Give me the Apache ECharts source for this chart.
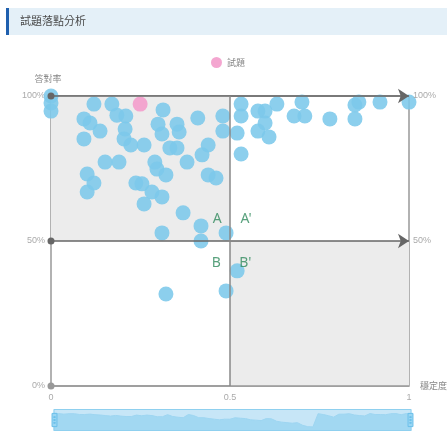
<!DOCTYPE html>
<html>
<head>
<meta charset="utf-8">
<script src="https://cdn.jsdelivr.net/npm/echarts@6/dist/echarts.min.js"></script>
<style>
  html, body { margin: 0; padding: 0; background: #fff; }
  #main { width: 447px; height: 433px; }
</style>
</head>
<body>
<div id="main"></div>
<script>
// 穩定度 (x) / 答對率 (y, %)
var stableX = [0, 0, 0, 0.12, 0.17, 0.184, 0.209, 0.313, 0.092, 0.109, 0.137, 0.092, 0.207, 0.204, 0.223, 0.26,
  0.299, 0.31, 0.352, 0.358, 0.332, 0.352, 0.41, 0.439, 0.422, 0.38, 0.48, 0.48, 0.151, 0.19, 0.101, 0.12,
  0.101, 0.237, 0.254, 0.29, 0.296, 0.321, 0.282, 0.31, 0.26, 0.439, 0.461, 0.369, 0.419, 0.31, 0.419, 0.489,
  0.52, 0.489, 0.321, 0.531, 0.531, 0.52, 0.531, 0.578, 0.598, 0.631, 0.598, 0.578, 0.609, 0.701, 0.679,
  0.709, 0.779, 0.849, 0.86, 0.849, 0.919, 1.0];
var correctY = [100, 97.6, 94.8, 97.2, 97.2, 93.4, 93.1, 95.2, 92.1, 90.7, 87.9, 85.2, 88.6, 85.2, 83.1, 83.1,
  90.3, 86.9, 90.3, 87.6, 82.1, 82.1, 92.4, 83.1, 79.7, 77.2, 93.1, 87.9, 77.2, 77.2, 73.1, 70,
  66.9, 70, 69.7, 77.2, 74.8, 72.8, 66.9, 65.2, 62.8, 72.8, 71.7, 59.7, 55.2, 52.8, 50, 52.8,
  39.7, 32.8, 31.7, 97.2, 93.1, 87.2, 80, 94.8, 94.8, 97.2, 90.7, 87.9, 85.9, 97.9, 93.1,
  93.1, 92.1, 96.9, 97.9, 92.1, 97.9, 97.9];
var pinkX = [0.249];
var pinkY = [97.2];

var quadLabels = ['A', "A'", 'B', "B'"];
var quadX = [0.464, 0.545, 0.462, 0.543];
var quadY = [57.5, 57.5, 42.5, 42.5];

var yTicks = [0, 50, 100];

var pointData = [];
for (var i = 0; i < stableX.length; i++) {
  pointData.push([stableX[i], correctY[i]]);
}
var pinkData = [];
for (var j = 0; j < pinkX.length; j++) {
  pinkData.push([pinkX[j], pinkY[j]]);
}
var labelData = [];
for (var k = 0; k < quadLabels.length; k++) {
  labelData.push({ name: quadLabels[k], value: [quadX[k], quadY[k]] });
}

var chart = echarts.init(document.getElementById('main'));

var option = {
  animation: false,
  graphic: [
    { type: 'rect', shape: { x: 6, y: 8, width: 441, height: 27 }, style: { fill: '#e4f0f8' } },
    { type: 'rect', shape: { x: 6, y: 8, width: 3, height: 27 }, style: { fill: '#1f5fae' } },
    { type: 'text', left: 20, top: 15, style: { text: '試題落點分析', fill: '#4a4a4a', font: '11px "Noto Sans CJK TC"' } }
  ],
  legend: {
    data: ['試題'],
    top: 52,
    left: 206,
    icon: 'circle',
    itemWidth: 11,
    itemHeight: 11,
    itemGap: 6,
    textStyle: { color: '#888', fontSize: 9, fontFamily: 'Noto Sans CJK TC' }
  },
  grid: {
    left: 51,
    right: 38,
    top: 96,
    bottom: 47,
    outerBoundsMode: 'none',
    show: true,
    borderColor: '#999',
    borderWidth: 1.5,
    backgroundColor: '#fff'
  },
  xAxis: {
    type: 'value',
    min: 0,
    max: 1,
    interval: 0.5,
    name: '穩定度',
    nameLocation: 'end',
    nameGap: 11,
    nameTextStyle: { color: '#888', fontSize: 9, fontFamily: 'Noto Sans CJK TC' },
    axisLine: { show: false },
    axisTick: { show: false },
    splitLine: { show: false },
    axisLabel: { color: '#aaa', fontSize: 9, margin: 7 }
  },
  yAxis: {
    type: 'value',
    min: yTicks[0],
    max: yTicks[yTicks.length - 1],
    interval: 50,
    name: '答對率',
    nameGap: 13,
    nameTextStyle: { color: '#888', fontSize: 9, fontFamily: 'Noto Sans CJK TC', padding: [0, 6, 0, 0] },
    axisLine: { show: false },
    axisTick: { show: false },
    splitLine: { show: false },
    axisLabel: { color: '#aaa', fontSize: 9, margin: 6, formatter: '{value}%' }
  },
  dataZoom: [{
    type: 'slider',
    xAxisIndex: 0,
    filterMode: 'none',
    left: 51,
    right: 38,
    bottom: 2,
    height: 22,
    borderColor: '#8fd0ef',
    backgroundColor: 'rgba(200,230,245,0.3)',
    fillerColor: 'rgba(140,205,240,0.4)',
    showDetail: false,
    handleIcon: 'path://M0,0 h6 v16 h-6 z M2,4 h2 v1 h-2 z M2,7.5 h2 v1 h-2 z M2,11 h2 v1 h-2 z',
    handleSize: '60%',
    handleStyle: { color: '#9ad6f3', borderColor: '#6cc0ea' },
    moveHandleSize: 0,
    dataBackground: {
      lineStyle: { color: '#a9dbf2', width: 1 },
      areaStyle: { color: '#a9dbf2', opacity: 0.9 }
    },
    selectedDataBackground: {
      lineStyle: { color: '#a9dbf2', width: 1 },
      areaStyle: { color: '#a9dbf2', opacity: 0.9 }
    },
    brushSelect: false
  }],
  series: [
    {
      name: '其他',
      type: 'scatter',
      symbolSize: 15,
      itemStyle: { color: '#7cc8eb', opacity: 0.88 },
      data: pointData,
      z: 3,
      markArea: {
        silent: true,
        itemStyle: { color: '#ececec' },
        data: [
          [{ coord: [0, 50] }, { coord: [0.5, 100] }],
          [{ coord: [0.5, 0] }, { coord: [1, 50] }]
        ]
      },
      markLine: {
        silent: true,
        symbolSize: [7, 11],
        lineStyle: { color: '#666', width: 1.5, type: 'solid' },
        label: { position: 'end', color: '#aaa', fontSize: 9, distance: 4 },
        data: [
          [{ coord: [0, 100], symbol: 'circle', symbolSize: 7 },
           { coord: [1, 100], symbol: 'arrow', symbolSize: 11, label: { formatter: '100%' } }],
          [{ coord: [0, 50], symbol: 'circle', symbolSize: 7 },
           { coord: [1, 50], symbol: 'arrow', symbolSize: 11, label: { formatter: '50%' } }],
          [{ coord: [0, 0], symbol: 'circle', symbolSize: 7, lineStyle: { color: '#999' }, itemStyle: { color: '#555' } },
           { coord: [1, 0], symbol: 'none', label: { show: false } }],
          [{ coord: [0.5, 0], symbol: 'none', lineStyle: { color: '#888' } },
           { coord: [0.5, 100], symbol: 'none', label: { show: false } }]
        ]
      }
    },
    {
      name: '試題',
      type: 'scatter',
      symbolSize: 15,
      itemStyle: { color: '#f3a1cd', opacity: 0.95 },
      data: pinkData,
      z: 4
    },
    {
      name: '區域',
      type: 'scatter',
      symbolSize: 0,
      silent: true,
      label: {
        show: true,
        position: 'inside',
        formatter: '{b}',
        color: '#2f8a5c',
        fontSize: 14,
        fontFamily: 'Noto Sans'
      },
      data: labelData,
      z: 5
    }
  ]
};

chart.setOption(option);
</script>
</body>
</html>
